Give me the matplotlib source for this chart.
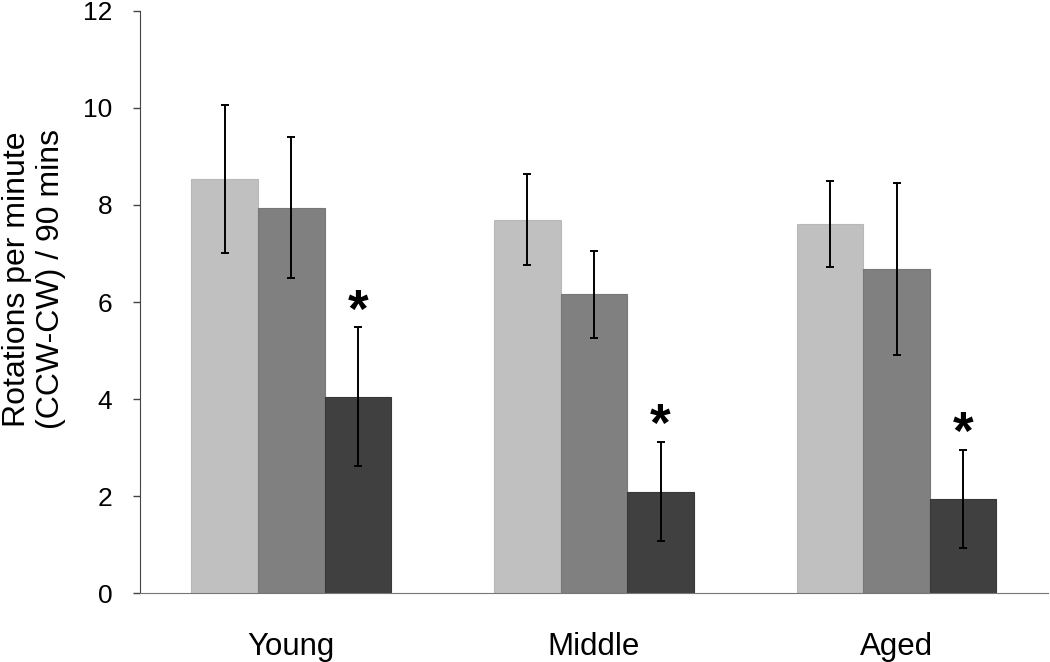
import numpy as np
import matplotlib.pyplot as plt

plt.rcParams['font.family'] = ['Liberation Sans', 'DejaVu Sans']

# data
groups = ['Young', 'Middle', 'Aged']
light = [8.53, 7.70, 7.61]
light_err = [1.52, 0.93, 0.88]
mid = [7.94, 6.16, 6.69]
mid_err = [1.45, 0.89, 1.77]
dark = [4.05, 2.10, 1.95]
dark_err = [1.43, 1.02, 1.01]
signif = ['*', '*', '*']

x = np.arange(len(groups))
w = 0.22

fig = plt.figure(figsize=(10.5, 6.62), dpi=100)
ax = fig.add_axes([0.1333, 0.1035, 0.8647, 0.8803])

err_kw = dict(ecolor='black', elinewidth=1.4, capsize=2.6, capthick=1.4)
ax.bar(x - w, light, w, yerr=light_err, color='#c0c0c0', edgecolor='#b8b8b8', linewidth=0.8, error_kw=err_kw)
ax.bar(x, mid, w, yerr=mid_err, color='#808080', edgecolor='#777777', linewidth=0.8, error_kw=err_kw)
ax.bar(x + w, dark, w, yerr=dark_err, color='#404040', edgecolor='#383838', linewidth=0.8, error_kw=err_kw)

# asterisks over the dark bars
for i in range(len(groups)):
    ax.text(x[i] + w, dark[i] + dark_err[i] + 0.3, signif[i], ha='center', va='center',
            fontsize=38, fontweight='bold')

ax.set_xlim(-0.5, 2.5)
ax.set_ylim(0, 12)
ax.set_yticks(np.arange(0, 13, 2))
ax.set_xticks(x)
ax.set_xticklabels(groups, fontsize=22.5)
ax.tick_params(axis='x', length=0, pad=28)
ax.tick_params(axis='y', labelsize=19, length=5, width=1, direction='out', pad=15, color='#444444')

ax.spines['top'].set_visible(False)
ax.spines['right'].set_visible(False)
ax.spines['left'].set_color('#444444')
ax.spines['bottom'].set_color('#777777')

ax.set_ylabel('Rotations per minute\n(CCW-CW) / 90 mins', fontsize=23)
ax.yaxis.set_label_coords(-0.081, 0.54)

fig.savefig('out.png', dpi=100)
